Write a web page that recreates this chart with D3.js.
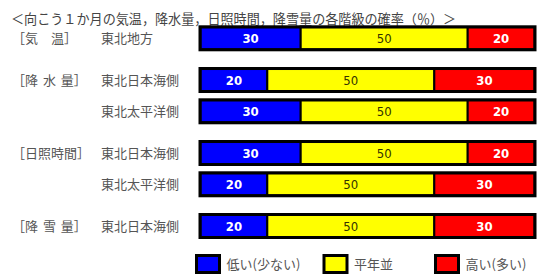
<!DOCTYPE html>
<html>
<head>
<meta charset="utf-8">
<script src="https://cdn.jsdelivr.net/npm/d3@7"></script>
<style>
  body { margin: 0; background: #fff; }
  text { font-family: "Noto Sans CJK JP", sans-serif; }
  .num { font-family: "Liberation Sans Narrow", "DejaVu Sans Condensed", sans-serif; font-weight: bold; font-size: 13px; }
</style>
</head>
<body>
<div id="chart"></div>
<script>
// 階級の名前と色
var classes = ["低い(少ない)", "平年並", "高い(多い)"];
var colors = ["#0000ff", "#ffff00", "#ff0000"];
var textColors = ["#ffffff", "#333300", "#ffffff"];

// 要素ごとの行
var groups = ["［気　温］", "［降 水 量］", "［日照時間］", "［降 雪 量］"];
var regions = ["東北地方", "東北日本海側", "東北太平洋側", "東北日本海側", "東北太平洋側", "東北日本海側"];
var rowGroup = [0, 1, 1, 2, 2, 3];
var lowValues = [30, 20, 30, 30, 20, 20];
var normalValues = [50, 50, 50, 50, 50, 50];
var highValues = [20, 30, 20, 20, 30, 30];

var title = "＜向こう１か月の気温，降水量，日照時間，降雪量の各階級の確率（％）＞";

var width = 550;
var height = 280;

var rows = regions.map(function (r, i) {
  return {
    region: r,
    group: rowGroup[i],
    first: i === 0 || rowGroup[i] !== rowGroup[i - 1],
    values: [lowValues[i], normalValues[i], highValues[i]],
    // 行の位置：グループの間に少し隙間
    slot: i + rowGroup[i] / 3
  };
});

var svg = d3.select("#chart").append("svg")
  .attr("width", width)
  .attr("height", height);

var x = d3.scaleLinear().domain([0, 100]).range([200.5, 534.5]);
var y = d3.scaleLinear().domain([0, 6]).range([38.3, 226]);
var barH = 22;

// タイトル
svg.append("text")
  .attr("x", 11)
  .attr("y", 19)
  .attr("dy", "0.36em")
  .attr("font-size", 13.1)
  .attr("fill", "#444")
  .text(title);

var row = svg.selectAll("g.row")
  .data(rows)
  .enter()
  .append("g")
  .attr("class", "row")
  .attr("transform", function (d) { return "translate(0," + y(d.slot) + ")"; });

// グループ名
row.filter(function (d) { return d.first; })
  .append("text")
  .attr("x", 12)
  .attr("dy", "0.36em")
  .attr("font-size", 13)
  .attr("fill", "#555")
  .style("word-spacing", "2px")
  .text(function (d) { return groups[d.group]; });

// 地域名
row.append("text")
  .attr("x", 101)
  .attr("dy", "0.36em")
  .attr("font-size", 13)
  .attr("fill", "#555")
  .text(function (d) { return d.region; });

// 各階級の帯
var seg = row.selectAll("g.seg")
  .data(function (d) {
    var acc = 0;
    return d.values.map(function (v, k) {
      var s = { k: k, v: v, x0: acc, x1: acc + v };
      acc += v;
      return s;
    });
  })
  .enter()
  .append("g")
  .attr("class", "seg");

seg.append("rect")
  .attr("x", function (d) { return x(d.x0); })
  .attr("y", -barH / 2)
  .attr("width", function (d) { return x(d.x1) - x(d.x0); })
  .attr("height", barH)
  .attr("fill", function (d) { return colors[d.k]; })
  .attr("stroke", "#000")
  .attr("stroke-width", 2);

seg.append("text")
  .attr("class", "num")
  .attr("x", function (d) { return (x(d.x0) + x(d.x1)) / 2; })
  .attr("dy", "0.36em")
  .attr("text-anchor", "middle")
  .attr("fill", function (d) { return textColors[d.k]; })
  .style("font-weight", function (d) { return d.k === 1 ? "normal" : "bold"; })
  .text(function (d) { return d.v; });

// 外枠
row.append("rect")
  .attr("x", x(0) - 0.5)
  .attr("y", -barH / 2 - 0.5)
  .attr("width", x(100) - x(0) + 1)
  .attr("height", barH + 1)
  .attr("fill", "none")
  .attr("stroke", "#000")
  .attr("stroke-width", 3);

// 凡例
var legendX = [196.5, 324, 435.5];
var legend = svg.selectAll("g.legend")
  .data(classes)
  .enter()
  .append("g")
  .attr("class", "legend")
  .attr("transform", function (d, i) { return "translate(" + legendX[i] + ",264)"; });

legend.append("rect")
  .attr("x", 0)
  .attr("y", -8.5)
  .attr("width", 23)
  .attr("height", 17)
  .attr("fill", function (d, i) { return colors[i]; })
  .attr("stroke", "#000")
  .attr("stroke-width", 3);

legend.append("text")
  .attr("x", 30)
  .attr("dy", "0.36em")
  .attr("font-size", 13)
  .attr("fill", "#555")
  .text(function (d) { return d; });
</script>
</body>
</html>
